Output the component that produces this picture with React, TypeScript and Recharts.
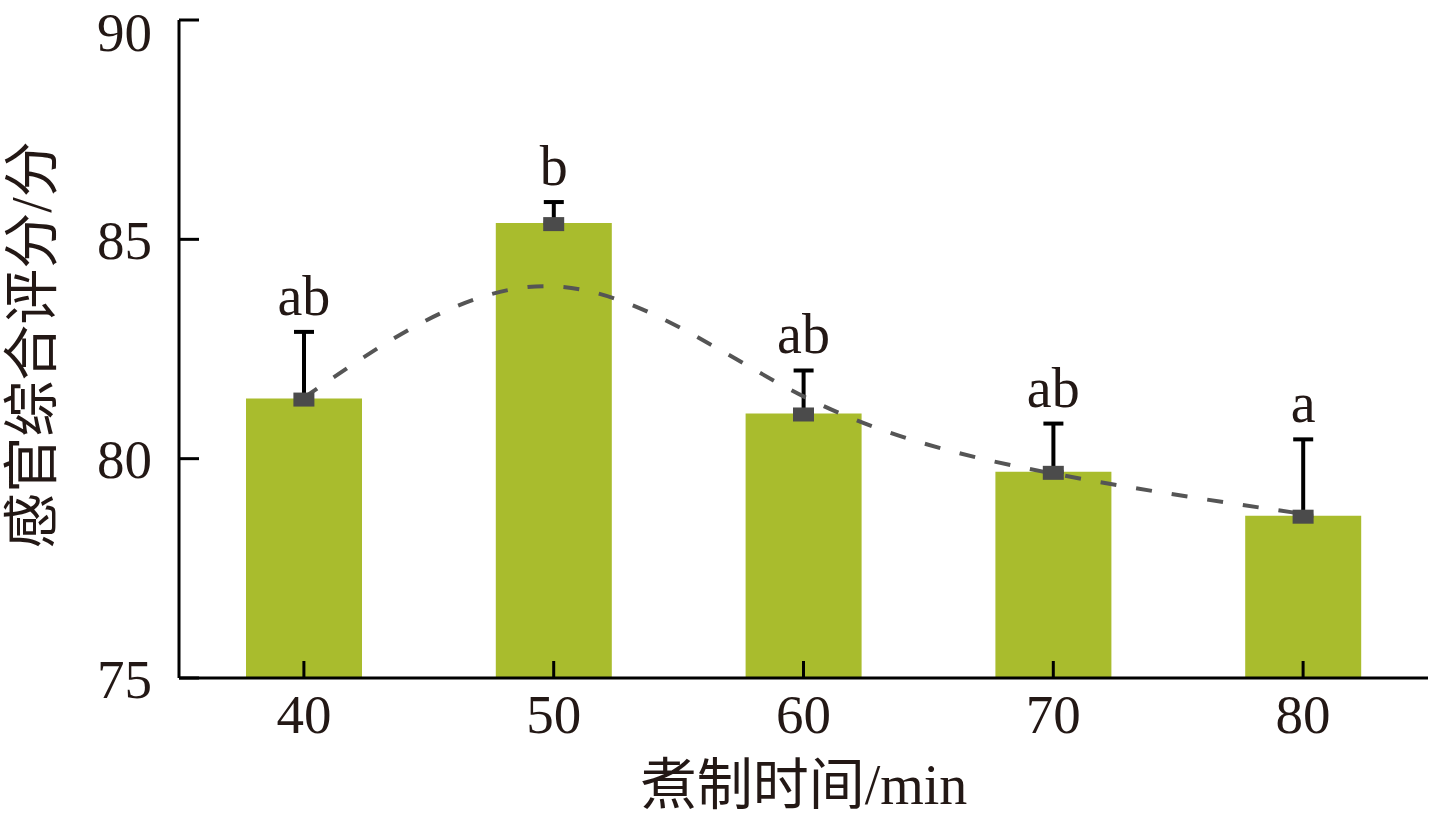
import { ComposedChart, Bar, Line, XAxis, YAxis, ErrorBar, LabelList } from 'recharts';

// 煮制时间 (min)
const times = ['40', '50', '60', '70', '80'];
// 感官综合评分 means
const scores = [81.37, 85.37, 81.03, 79.7, 78.7];
// upper standard deviation
const errors = [1.52, 0.48, 0.98, 1.1, 1.74];
// significance letters
const letters = ['ab', 'b', 'ab', 'ab', 'a'];
// dashed trend curve read at each category
const trend = [81.39, 83.93, 81.42, 79.66, 78.74];
const yTicks = [75, 80, 85, 90];

const data = times.map((t, i) => ({
    time: t,
    score: scores[i],
    err: [0, errors[i]],
    top: scores[i] + errors[i],
    letter: letters[i],
    trend: trend[i],
}));

const TEXT = '#231815';
const FONT = '"Liberation Serif", "Times New Roman", "Noto Sans CJK SC", serif';

const Square = (props: any) => {
    const { cx, cy, index } = props;
    if (cx == null || cy == null) return null;
    return <rect key={`sq-${index}`} x={cx - 10.5} y={cy - 6} width={21} height={14} fill="#4b4b4b" />;
};

export default function App() {
    return (
        <div style={{ position: 'absolute', left: 0, top: 0, background: '#fff' }}>
            <ComposedChart
                width={1430}
                height={818}
                data={data}
                margin={{ top: 20, right: 2, left: 0, bottom: 0 }}
            >
                <XAxis
                    dataKey="time"
                    height={140}
                    tickSize={-17}
                    tickMargin={33}
                    axisLine={{ stroke: '#000', strokeWidth: 3 }}
                    tickLine={{ stroke: '#000', strokeWidth: 3 }}
                    tick={{ fill: TEXT, fontSize: 55, fontFamily: FONT }}
                    label={{
                        content: () => (
                            <text x={804} y={804} textAnchor="middle" fill={TEXT} fontSize={56} fontFamily={FONT}>
                                煮制时间/min
                            </text>
                        ),
                    }}
                />
                <YAxis
                    type="number"
                    domain={[75, 90]}
                    ticks={yTicks}
                    width={179}
                    tickSize={-20}
                    tickMargin={47}
                    axisLine={{ stroke: '#000', strokeWidth: 3 }}
                    tickLine={{ stroke: '#000', strokeWidth: 3 }}
                    tick={{ fill: TEXT, fontSize: 55, fontFamily: FONT }}
                    label={{
                        content: () => (
                            <text
                                x={32}
                                y={345}
                                transform="rotate(-90, 32, 345)"
                                textAnchor="middle"
                                dominantBaseline="central"
                                fill={TEXT}
                                fontSize={56}
                                fontFamily={FONT}
                            >
                                感官综合评分/分
                            </text>
                        ),
                    }}
                />
                <Bar dataKey="score" fill="#a9bc2d" barSize={116} isAnimationActive={false}>
                    <ErrorBar dataKey="err" width={10} strokeWidth={4} stroke="#000" direction="y" isAnimationActive={false} />
                </Bar>
                <Line
                    type="natural"
                    dataKey="trend"
                    stroke="#555555"
                    strokeWidth={4}
                    strokeDasharray="16 20"
                    dot={false}
                    activeDot={false}
                    isAnimationActive={false}
                />
                <Line
                    dataKey="score"
                    stroke="none"
                    dot={Square}
                    activeDot={false}
                    isAnimationActive={false}
                />
                <Line dataKey="top" stroke="none" dot={false} activeDot={false} isAnimationActive={false}>
                    <LabelList dataKey="letter" position="top" offset={17} fill={TEXT} fontSize={56} fontFamily={FONT} />
                </Line>
            </ComposedChart>
        </div>
    );
}
